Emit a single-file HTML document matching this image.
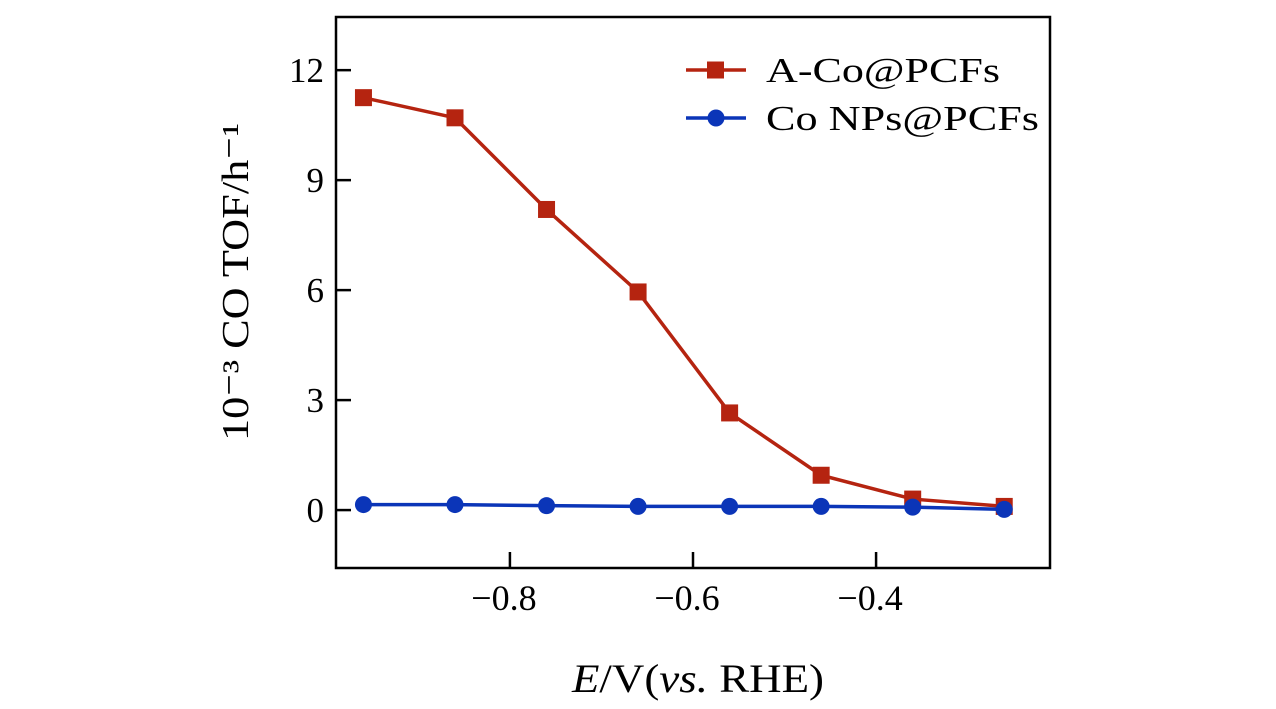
<!DOCTYPE html>
<html><head><meta charset="utf-8"><style>
body{margin:0;background:#fff;}
svg{display:block;font-family:"Liberation Serif",serif;}
</style></head><body>
<svg id="chart" width="1276" height="709"></svg>
<script>
const xValues=[-0.96,-0.86,-0.76,-0.66,-0.56,-0.46,-0.36,-0.26];
const seriesA=[11.25,10.7,8.2,5.95,2.65,0.95,0.3,0.1];
const seriesB=[0.15,0.15,0.12,0.1,0.1,0.1,0.08,0.02];
const yTicks=[0,3,6,9,12];
const xTicks=[-0.8,-0.6,-0.4];
const xTickLabels=["\u22120.8","\u22120.6","\u22120.4"];
const L=336,R=1050,T=17,B=568,xmin=-0.99,xmax=-0.21,ymin=-1.58,ymax=13.45;
const sx=v=>L+(v-xmin)/(xmax-xmin)*(R-L);
const sy=v=>B-(v-ymin)/(ymax-ymin)*(B-T);
const svg=document.getElementById('chart');
const NS='http://www.w3.org/2000/svg';
function mk(t,a,p){const e=document.createElementNS(NS,t);for(const k in a)e.setAttribute(k,a[k]);(p||svg).appendChild(e);return e;}
let frame=mk('rect',{x:L,y:T,width:R-L,height:B-T,fill:'none',stroke:'#000','stroke-width':2.5});


yTicks.forEach(v=>{
 let t=mk('line',{x1:L,x2:L+15,y1:sy(v),y2:sy(v),stroke:'#000','stroke-width':2.5});
 
 
 let tx=mk('text',{x:L-12,y:sy(v)+12,'text-anchor':'end','font-size':35});
 tx.textContent=v;
 
 
});
xTicks.forEach((v,i)=>{
 let t=mk('line',{x1:sx(v),x2:sx(v),y1:B,y2:B-16,stroke:'#000','stroke-width':2.5});
 
 
 let tx=mk('text',{x:sx(v)-6,y:B+42,'text-anchor':'middle','font-size':36});
 tx.textContent=xTickLabels[i];
 
 
});
function series(vals,color,shape,name){
 let pl=mk('polyline',{points:vals.map((v,i)=>sx(xValues[i])+','+sy(v)).join(' '),fill:'none',stroke:color,'stroke-width':3.5});
 
 
 vals.forEach((v,i)=>{
  let m=shape==='sq'?mk('rect',{x:sx(xValues[i])-8.5,y:sy(v)-8.5,width:17,height:17,fill:color}):mk('circle',{cx:sx(xValues[i]),cy:sy(v),r:8.5,fill:color});
  
  
 });
}
series(seriesA,'#b52410','sq','a-co-pcfs');
series(seriesB,'#0b35b8','ci','co-nps-pcfs');
[['A-Co@PCFs','#b52410','sq',70],['Co NPs@PCFs','#0b35b8','ci',118]].forEach(([lab,c,s,y])=>{
 let g=mk('g',{});
 
 
 mk('line',{x1:686,x2:746,y1:y,y2:y,stroke:c,'stroke-width':3.5},g);
 if(s==='sq')mk('rect',{x:707,y:y-8.5,width:17,height:17,fill:c},g);else mk('circle',{cx:716,cy:y,r:8.5,fill:c},g);
 let t=mk('text',{x:766,y:y+12,'font-size':35,textLength:s==='sq'?234:273,lengthAdjust:'spacingAndGlyphs'},g);t.textContent=lab;
});
let xt=mk('text',{x:698,y:692,'text-anchor':'middle','font-size':40,textLength:252,lengthAdjust:'spacingAndGlyphs'});
xt.innerHTML='<tspan font-style="italic">E</tspan>/V(<tspan font-style="italic">vs.</tspan> RHE)';


let yt=mk('text',{x:0,y:0,'text-anchor':'middle','font-size':38,transform:'translate(248,282) rotate(-90)',textLength:318,lengthAdjust:'spacingAndGlyphs'});
yt.textContent='10\u207B\u00B3 CO TOF/h\u207B\u00B9';


</script>
</body></html>
